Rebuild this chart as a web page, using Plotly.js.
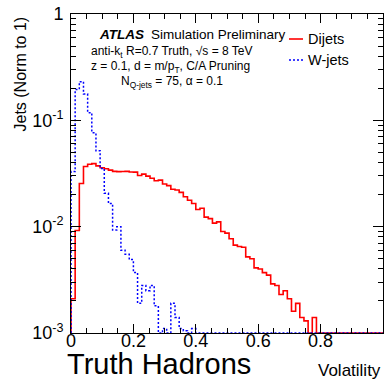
<!DOCTYPE html>
<html>
<head>
<meta charset="utf-8">
<script src="https://cdn.plot.ly/plotly-3.0.1.min.js"></script>
<style>
html, body { margin: 0; padding: 0; background: #fff; }
#plot { width: 388px; height: 380px; }
</style>
</head>
<body>
<div id="plot"></div>
<script>
// Volatility distributions: 75 equal bins on [0, 1], each normalised to unit area.
const binLow = 0;
const binHigh = 1;
const nBins = 75;

const dijets = [
  0.0021, 0.0092, 0.0255, 0.0368, 0.0386, 0.0392, 0.0373, 0.0358, 0.0350, 0.0340,
  0.0331, 0.0329, 0.0330, 0.0331, 0.0327, 0.0326, 0.0303, 0.0312, 0.0299, 0.0285,
  0.0270, 0.0274, 0.0252, 0.0243, 0.0225, 0.0221, 0.0210, 0.0191, 0.0177, 0.0165,
  0.0145, 0.0149, 0.0123, 0.0119, 0.0108, 0.0111, 0.0090, 0.0087, 0.0077, 0.0067,
  0.0065, 0.0064, 0.0052, 0.0050, 0.0041, 0.0040, 0.0037, 0.0035, 0.0029, 0.0028,
  0.0023, 0.0025, 0.0021, 0.0016, 0.0019, 0.0014, 0.0013, 0, 0.0014, 0,
  0, 0, 0, 0, 0, 0, 0, 0, 0, 0, 0, 0, 0, 0, 0
];

const wjets = [
  0.033, 0.195, 0.231, 0.177, 0.118, 0.0764, 0.0518, 0.0353, 0.0206, 0.0165,
  0.0093, 0.0100, 0.0060, 0.0055, 0.0049, 0.0037, 0.0019, 0.0028, 0.0025, 0.0028,
  0.0018, 0, 0.0011, 0, 0.0019, 0.0014, 0.0011, 0.00105, 0, 0.0011,
  0, 0, 0, 0, 0, 0, 0, 0, 0, 0, 0, 0, 0, 0, 0,
  0, 0, 0, 0, 0, 0, 0, 0, 0, 0, 0, 0, 0, 0, 0,
  0, 0, 0, 0, 0, 0, 0, 0, 0, 0, 0, 0, 0, 0, 0
];

const seriesNames = ['Dijets', 'W-jets'];

const xTickVals = [0, 0.2, 0.4, 0.6, 0.8, 1];
const xTickText = ['0', '0.2', '0.4', '0.6', '0.8', '1'];
const yTickVals = [1e-3, 1e-2, 1e-1, 1];
const yTickText = ['10<sup>-3</sup>', '10<sup>-2</sup>', '10<sup>-1</sup>', '1'];

// Frame geometry in page pixels
const W = 388, H = 380;
const L = 71, R = 5, T = 14, B = 47;
const PW = W - L - R, PH = H - T - B;
const px = v => (v - L) / PW;          // page x -> paper x
const py = v => (T + PH - v) / PH;     // page y -> paper y

// Empty bins sit on the bottom of the log frame
const yFloor = 1e-3;

function stepTrace(values, name, line) {
  const w = (binHigh - binLow) / nBins;
  const x = [binLow], y = [yFloor];
  for (let i = 0; i < nBins; i++) {
    x.push(binLow + i * w);
    y.push(Math.max(values[i], yFloor));
  }
  x.push(binHigh);
  y.push(Math.max(values[nBins - 1], yFloor));
  return {
    type: 'scatter', mode: 'lines', x: x, y: y, name: name,
    line: Object.assign({ shape: 'hv' }, line),
    showlegend: false, hoverinfo: 'skip', cliponaxis: true
  };
}

const red = '#ff0000', blue = '#0000ff';
const traces = [
  stepTrace(dijets, seriesNames[0], { color: red, width: 1.6 }),
  stepTrace(wjets, seriesNames[1], { color: blue, width: 1.5, dash: '2px,2px' })
];

// Minor ticks
const xMinor = [];
for (let k = 1; k < 20; k++) { if (k % 4 !== 0) xMinor.push(k * 0.05); }
const yMinor = [];
for (let d = -3; d < 0; d++) for (let m = 2; m <= 9; m++) yMinor.push(m * Math.pow(10, d));

const FONT = 'Liberation Sans, Arial, Helvetica, sans-serif';

const axisCommon = {
  ticks: 'inside', tickcolor: '#000', tickwidth: 1,
  showline: true, linecolor: '#000', linewidth: 1, mirror: 'ticks',
  showgrid: false, zeroline: false,
  tickfont: { family: FONT, size: 18, color: '#000' }
};

const layout = {
  width: W, height: H,
  margin: { l: L, r: R, t: T, b: B, pad: 0 },
  paper_bgcolor: '#fff', plot_bgcolor: '#fff',
  showlegend: false,
  xaxis: Object.assign({}, axisCommon, {
    range: [binLow, binHigh], tickmode: 'array', tickvals: xTickVals, ticktext: xTickText,
    ticklen: 9, ticklabelstandoff: -9,
    minor: { tickmode: 'array', tickvals: xMinor, ticks: 'inside', ticklen: 5, tickcolor: '#000', tickwidth: 1 }
  }),
  yaxis: Object.assign({}, axisCommon, {
    type: 'log', range: [-3, 0], tickmode: 'array', tickvals: yTickVals, ticktext: yTickText,
    ticklen: 10, ticklabelstandoff: 3,
    minor: { tickmode: 'array', tickvals: yMinor, ticks: 'inside', ticklen: 5, tickcolor: '#000', tickwidth: 1 }
  }),
  shapes: [
    { type: 'line', xref: 'paper', yref: 'paper', x0: px(289), x1: px(303), y0: py(39), y1: py(39),
      line: { color: red, width: 1.6 } },
    { type: 'line', xref: 'paper', yref: 'paper', x0: px(289), x1: px(303), y0: py(60), y1: py(60),
      line: { color: blue, width: 1.5, dash: '2px,2px' } }
  ],
  annotations: [
    { text: '<b><i>ATLAS</i></b>', x: px(97), y: py(34), xanchor: 'left', yanchor: 'middle',
      font: { family: FONT, size: 13.5, color: '#000' } },
    { text: 'Simulation Preliminary', x: px(149), y: py(34), xanchor: 'left', yanchor: 'middle',
      font: { family: FONT, size: 13.5, color: '#000' } },
    { text: 'anti-k<sub>t</sub> R=0.7 Truth, \u221As = 8 TeV', x: px(89), y: py(52), xanchor: 'left', yanchor: 'middle',
      font: { family: FONT, size: 12, color: '#000' } },
    { text: 'z = 0.1, d = m/p<sub>T</sub>, C/A Pruning', x: px(89), y: py(67), xanchor: 'left', yanchor: 'middle',
      font: { family: FONT, size: 12, color: '#000' } },
    { text: 'N<sub>Q-jets</sub> = 75, \u03B1 = 0.1', x: px(119), y: py(82), xanchor: 'left', yanchor: 'middle',
      font: { family: FONT, size: 12, color: '#000' } },
    { text: seriesNames[0], x: px(306), y: py(39), xanchor: 'left', yanchor: 'middle',
      font: { family: FONT, size: 14.5, color: '#000' } },
    { text: seriesNames[1], x: px(306), y: py(60), xanchor: 'left', yanchor: 'middle',
      font: { family: FONT, size: 14.5, color: '#000' } },
    { text: 'Jets (Norm to 1)', textangle: -90, x: px(20), y: py(15), xanchor: 'center', yanchor: 'top',
      font: { family: FONT, size: 16, color: '#000' } },
    { text: 'Volatility', x: px(383), y: py(370), xanchor: 'right', yanchor: 'middle',
      font: { family: FONT, size: 17, color: '#000' } },
    { text: 'Truth Hadrons', x: px(66), y: py(363.5), xanchor: 'left', yanchor: 'middle', borderpad: 0,
      font: { family: FONT, size: 29, color: '#000' } }
  ].map(a => Object.assign({ xref: 'paper', yref: 'paper', showarrow: false }, a))
};

Plotly.newPlot('plot', traces, layout, { staticPlot: true, displayModeBar: false });
</script>
</body>
</html>
